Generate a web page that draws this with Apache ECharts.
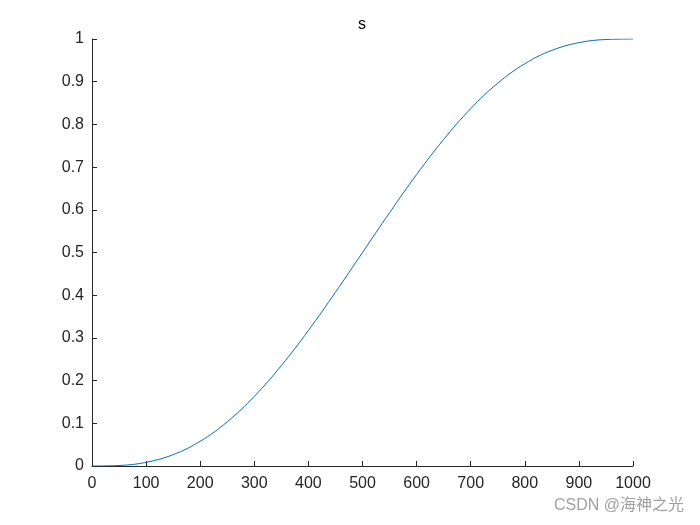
<!DOCTYPE html>
<html>
<head>
<meta charset="utf-8">
<script src="https://cdn.jsdelivr.net/npm/echarts@6/dist/echarts.min.js"></script>
<style>html,body{margin:0;padding:0;background:#fff}#c{width:700px;height:525px}</style>
</head>
<body>
<div id="c"></div>
<script>
var xValues = [0,50,100,150,200,250,300,350,400,450,500,550,600,650,700,750,800,850,900,950,1000];
var sValues = [0,0.0012,0.0086,0.0266,0.0579,0.1035,0.1631,0.2352,0.3174,0.4069,0.5,0.5931,0.6826,0.7648,0.8369,0.8965,0.9421,0.9734,0.9914,0.9988,1];
var xTicks = [0,100,200,300,400,500,600,700,800,900,1000];
var yTicks = [0,0.1,0.2,0.3,0.4,0.5,0.6,0.7,0.8,0.9,1];
var titleText = 's';
var watermark = 'CSDN @海神之光';

var chart = echarts.init(document.getElementById('c'));
var fam = 'Liberation Sans, Arial, sans-serif';
var axisCommon = {
  axisLine: {show: true, lineStyle: {color: '#262626', width: 1}},
  axisTick: {show: true, inside: true, length: 5, lineStyle: {color: '#262626'}},
  splitLine: {show: false}
};
chart.setOption({
  animation: false,
  backgroundColor: '#fff',
  graphic: [
    {type: 'text', x: 362, y: 17, style: {text: titleText, textAlign: 'center', fill: '#000', fontSize: 16, fontFamily: fam}},
    {type: 'text', x: 684, y: 498, style: {text: watermark, textAlign: 'right', fill: '#a0a0a0', fontSize: 16, fontFamily: 'Liberation Sans, Noto Sans CJK SC, sans-serif'}}
  ],
  grid: {left: 92, right: 67, top: 39, bottom: 59, containLabel: false},
  xAxis: Object.assign({type: 'value', min: xTicks[0], max: xTicks[xTicks.length-1], interval: 100}, axisCommon,
    {axisLabel: {color: '#262626', fontSize: 16, fontFamily: fam, margin: 10, formatter: function(v){return String(v);}}}),
  yAxis: Object.assign({type: 'value', min: yTicks[0], max: yTicks[yTicks.length-1], interval: 0.1}, axisCommon,
    {axisLabel: {color: '#262626', fontSize: 16, fontFamily: fam, margin: 8, formatter: function(v){return String(Math.round(v*10)/10);}}}),
  series: [{
    type: 'line', smooth: 0.4, showSymbol: false,
    data: xValues.map(function(x, i){return [x, sValues[i]];}),
    lineStyle: {color: '#0072BD', width: 1}
  }]
});
</script>
</body>
</html>
